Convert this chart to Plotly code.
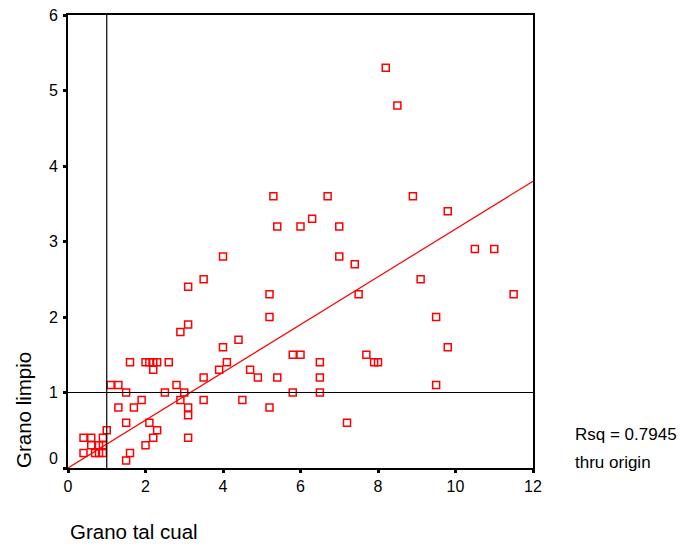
import plotly.graph_objects as go

# Data (Grano tal cual vs Grano limpio)
tal_cual = [
    0.4, 0.6, 0.4, 0.6, 0.7, 0.8, 0.9, 0.9, 0.9, 0.8, 1.0,
    1.1, 1.3, 1.5, 1.3, 1.5, 1.6, 1.5, 1.6, 1.7, 1.9,
    2.0, 2.1, 2.2, 2.3, 2.2, 2.6, 2.1, 2.3, 2.2, 2.0,
    2.5, 2.8, 3.0, 2.9, 3.1, 3.1, 3.1, 3.5, 3.5, 4.0, 3.9, 4.1,
    5.4, 6.0, 6.3, 7.0, 4.0, 7.0, 7.4, 3.5, 3.1, 5.2, 5.2, 3.1, 2.9,
    4.4, 5.8, 6.0, 6.5, 6.5, 6.5, 5.8, 4.7, 4.9, 5.4, 4.5, 5.2,
    8.2, 8.5, 5.3, 6.7, 8.9, 9.8, 9.1, 10.5, 11.0, 11.5, 7.5, 9.5,
    9.8, 7.7, 7.9, 8.0, 9.5, 7.2,
]
limpio = [
    0.4, 0.4, 0.2, 0.3, 0.2, 0.3, 0.4, 0.2, 0.3, 0.2, 0.5,
    1.1, 1.1, 1.0, 0.8, 0.6, 0.2, 0.1, 1.4, 0.8, 0.9,
    1.4, 1.4, 1.4, 1.4, 1.3, 1.4, 0.6, 0.5, 0.4, 0.3,
    1.0, 1.1, 1.0, 0.9, 0.8, 0.7, 0.4, 1.2, 0.9, 1.6, 1.3, 1.4,
    3.2, 3.2, 3.3, 3.2, 2.8, 2.8, 2.7, 2.5, 2.4, 2.3, 2.0, 1.9, 1.8,
    1.7, 1.5, 1.5, 1.4, 1.2, 1.0, 1.0, 1.3, 1.2, 1.2, 0.9, 0.8,
    5.3, 4.8, 3.6, 3.6, 3.6, 3.4, 2.5, 2.9, 2.9, 2.3, 2.3, 2.0,
    1.6, 1.5, 1.4, 1.4, 1.1, 0.6,
]
fit_slope = 0.3165          # regression through origin, as drawn
rsq_text = ["Rsq = 0.7945", "thru origin"]
x_title = "Grano tal cual"
y_title = "Grano limpio"
x_ticks = [0, 2, 4, 6, 8, 10, 12]
y_ticks = [0, 1, 2, 3, 4, 5, 6]
ref_x = 1
ref_y = 1

FONT = "Liberation Sans, Arial, sans-serif"
W, H = 684, 546
ML, MR, MT, MB = 68, 151, 15, 78
plot_w = W - ML - MR
plot_h = H - MT - MB

fig = go.Figure()
fig.add_trace(go.Scatter(
    x=tal_cual, y=limpio, mode="markers",
    marker=dict(symbol="square-open", size=7, color="#ff0000",
                line=dict(width=1.5, color="#ff0000")),
    showlegend=False, hoverinfo="skip",
))
fit_x = [0, 12]
fig.add_trace(go.Scatter(
    x=fit_x, y=[fit_slope * v for v in fit_x], mode="lines",
    line=dict(color="#ff0000", width=1.2), showlegend=False, hoverinfo="skip",
))

fig.add_shape(type="line", x0=ref_x, x1=ref_x, y0=0, y1=6, xref="x", yref="y",
              line=dict(color="black", width=1.2))
fig.add_shape(type="line", x0=0, x1=12, y0=ref_y, y1=ref_y, xref="x", yref="y",
              line=dict(color="black", width=1.2))

ann_list = []
for t in y_ticks:
    ann_list.append(dict(
        x=0, xref="paper", y=t, yref="y", text=str(t), showarrow=False,
        xanchor="right", yanchor="middle", xshift=-8, yshift=(10 if t == 0 else 0),
        font=dict(family=FONT, size=16, color="black"),
    ))
ann_list.append(dict(
    x=(23 - ML) / plot_w, xref="paper", y=(468 - 410) / plot_h, yref="paper",
    text=y_title, showarrow=False, textangle=-90,
    xanchor="center", yanchor="middle",
    font=dict(family=FONT, size=20.5, color="black"),
))
ann_list.append(dict(
    x=0, xref="paper", y=-(H - 1 - 468) / plot_h, yref="paper",
    text=x_title, showarrow=False, xanchor="left", yanchor="bottom",
    font=dict(family=FONT, size=20.5, color="black"),
))
ann_list.append(dict(
    x=(573 - ML) / plot_w, xref="paper", y=(468 - 434) / plot_h, yref="paper",
    text=rsq_text[0], showarrow=False, xanchor="left", yanchor="middle",
    font=dict(family=FONT, size=17, color="black"),
))
ann_list.append(dict(
    x=(573 - ML) / plot_w, xref="paper", y=(468 - 462) / plot_h, yref="paper",
    text=rsq_text[1], showarrow=False, xanchor="left", yanchor="middle",
    font=dict(family=FONT, size=17, color="black"),
))

fig.update_layout(
    width=W, height=H,
    margin=dict(l=ML, r=MR, t=MT, b=MB),
    paper_bgcolor="white", plot_bgcolor="white",
    font=dict(family=FONT, size=16, color="black"),
    xaxis=dict(
        range=[0, 12], tickvals=x_ticks, ticks="outside", ticklen=3, tickwidth=3,
        tickcolor="black", showline=True, linecolor="black", linewidth=2,
        mirror=True, showgrid=False, zeroline=False,
        tickfont=dict(family=FONT, size=16, color="black"),
    ),
    yaxis=dict(
        range=[0, 6], tickvals=y_ticks, ticks="outside", ticklen=3, tickwidth=3,
        tickcolor="black", showline=True, linecolor="black", linewidth=2,
        mirror=True, showgrid=False, zeroline=False, showticklabels=False,
    ),
    annotations=ann_list,
)

fig.write_html("out.html")
